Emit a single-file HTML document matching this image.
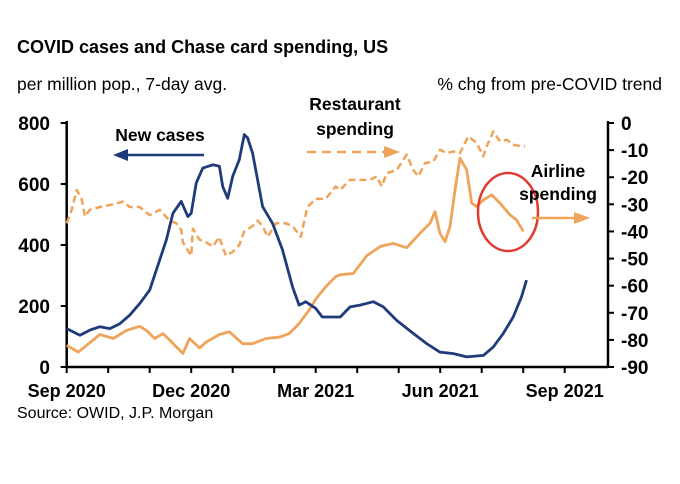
<!DOCTYPE html>
<html><head><meta charset="utf-8"><style>
body{margin:0;background:#fff;font-family:"Liberation Sans",Arial,sans-serif}
svg text{font-family:"Liberation Sans",Arial,sans-serif}
</style></head><body>
<svg width="680" height="479" viewBox="0 0 680 479">
<text x="17" y="53" font-size="18" font-weight="bold" fill="#000">COVID cases and Chase card spending, US</text>
<text x="17" y="90" font-size="17.5" fill="#000">per million pop., 7-day avg.</text>
<text x="662" y="90" font-size="17.5" fill="#000" text-anchor="end">% chg from pre-COVID trend</text>
<text x="17" y="418" font-size="16" fill="#000">Source: OWID, J.P. Morgan</text>
<g id="axes"></g>
<g id="series"></g>
<ellipse cx="508" cy="212" rx="30" ry="39" fill="none" stroke="#e03a2e" stroke-width="2.5"/>
<text x="160" y="141" font-size="17.5" font-weight="bold" text-anchor="middle">New cases</text>
<line x1="204" y1="155" x2="125" y2="155" stroke="#1f3b7a" stroke-width="2.5"/>
<polygon points="113,155 128,149 128,161" fill="#1f3b7a"/>
<text x="355" y="110" font-size="17.5" font-weight="bold" text-anchor="middle">Restaurant</text>
<text x="355" y="135" font-size="17.5" font-weight="bold" text-anchor="middle">spending</text>
<line x1="307" y1="152" x2="385" y2="152" stroke="#f0a35a" stroke-width="2.5" stroke-dasharray="9,6"/>
<polygon points="400,152 384,146 384,158" fill="#f0a35a"/>
<text x="558" y="177" font-size="17.5" font-weight="bold" text-anchor="middle">Airline</text>
<text x="558" y="200" font-size="17.5" font-weight="bold" text-anchor="middle">spending</text>
<line x1="532" y1="218" x2="575" y2="218" stroke="#f0a35a" stroke-width="2.5"/>
<polygon points="590,218 574,212 574,224" fill="#f0a35a"/>
</svg>
<script>
const xTickLabels=["Sep 2020","Dec 2020","Mar 2021","Jun 2021","Sep 2021"];
const leftTicks=[0,200,400,600,800];
const rightTicks=[0,-10,-20,-30,-40,-50,-60,-70,-80,-90];
const casesMonths=[0,0.32,0.56,0.8,1.04,1.28,1.52,1.76,2.0,2.24,2.4,2.56,2.76,2.92,3.0,3.12,3.28,3.52,3.68,3.76,3.88,4.0,4.16,4.28,4.36,4.48,4.72,4.96,5.2,5.44,5.6,5.76,6.0,6.16,6.4,6.59,6.83,7.07,7.39,7.63,7.95,8.35,8.67,8.99,9.32,9.64,10.04,10.28,10.52,10.76,10.96,11.08];
const casesValues=[126,104,121,132,126,142,170,208,252,351,416,504,543,493,504,603,652,663,658,592,553,625,680,762,751,701,526,471,384,263,203,214,192,164,164,164,197,203,214,197,153,110,77,49,44,33,38,66,110,164,230,285];
const restZ1=[[200,-37],[215,-32],[230,-24.7],[245,-28],[255,-34.5],[270,-32],[300,-31],[340,-30],[370,-29],[390,-31],[420,-31],[450,-34],[480,-32],[510,-36],[530,-37],[545,-39.5],[550,-44],[575,-49],[580,-39],[600,-43],[620,-44],[640,-45.6],[660,-42],[670,-46],[680,-49],[700,-47.5],[720,-45],[735,-40],[760,-38],[775,-36],[790,-38],[805,-42],[830,-37],[860,-37],[880,-38],[905,-42],[925,-31],[950,-28],[980,-28],[1010,-23.4]];
const restZ2=[[0,-24.7],[30,-21],[60,-21],[90,-21],[110,-19.7],[125,-23.4],[140,-18.5],[170,-17.3],[200,-11.7],[220,-17.3],[235,-19.7],[255,-14.8],[280,-14.2],[300,-9.9],[320,-11.1],[340,-10.5],[360,-11.1],[385,-4.9],[410,-7.4],[430,-12.3],[440,-8.6],[460,-3.1],[480,-6.8],[500,-6.2],[520,-8],[545,-8.6],[555,-8.6]];
const airZ1=[[200,-82],[235,-84.5],[260,-82],[300,-78],[340,-79.5],[380,-76.5],[420,-75],[440,-76.5],[465,-79.5],[490,-77.7],[510,-80],[530,-82.6],[550,-85],[570,-79.5],[600,-83],[620,-80.8],[660,-78],[690,-77],[730,-81.4],[760,-81.4],[800,-79.5],[840,-79],[870,-77.7],[900,-74],[930,-69],[950,-65],[980,-60.4],[1010,-56.7]];
const airZ2=[[0,-56],[40,-55.5],[80,-49],[120,-45.6],[160,-44.4],[200,-46],[240,-40.7],[270,-37],[285,-32.7],[300,-40.7],[315,-43.8],[330,-38.2],[345,-24.7],[360,-13],[380,-17.3],[395,-29.6],[410,-30.8],[430,-28.4],[455,-26.5],[480,-29.6],[510,-33.9],[530,-35.8],[550,-40]];
const restMonths=[...restZ1.map(p=>(p[0]-200)/125),...restZ2.map(p=>(273.3+p[0]/3)/41.5)];
const restValues=[...restZ1.map(p=>p[1]),...restZ2.map(p=>p[1])];
const airMonths=[...airZ1.map(p=>(p[0]-200)/125),...airZ2.map(p=>(273.3+p[0]/3)/41.5)];
const airValues=[...airZ1.map(p=>p[1]),...airZ2.map(p=>p[1])];

const NS="http://www.w3.org/2000/svg";
const X0=66.7,XM=41.5,YT=123,YB=367;
const xS=m=>X0+m*XM;
const yL=v=>YB-(v/800)*(YB-YT);
const yR=v=>YT+(-v/90)*(YB-YT);
function mk(tag,attrs,parent){const e=document.createElementNS(NS,tag);for(const k in attrs)e.setAttribute(k,attrs[k]);parent.appendChild(e);return e;}
const ax=document.getElementById('axes');
let e;
e=mk('line',{x1:X0,y1:YT-2,x2:X0,y2:YB,stroke:'#000','stroke-width':2.5},ax);


e=mk('line',{x1:608,y1:YT-2,x2:608,y2:YB,stroke:'#000','stroke-width':2.5},ax);


e=mk('line',{x1:X0,y1:YB,x2:608,y2:YB,stroke:'#000','stroke-width':2.5},ax);


for(let m=0;m<=12;m++){
 e=mk('line',{x1:xS(m),y1:YB,x2:xS(m),y2:YB+6,stroke:'#000','stroke-width':2},ax);
 
 
}
xTickLabels.forEach((t,i)=>{
 e=mk('text',{x:xS(i*3),y:YB+30,'font-size':18,'font-weight':'bold','text-anchor':'middle'},ax);e.textContent=t;
 
 
});
leftTicks.forEach(v=>{
 e=mk('line',{x1:X0-6,y1:yL(v),x2:X0,y2:yL(v),stroke:'#000','stroke-width':2},ax);
 
 
 e=mk('text',{x:50,y:yL(v)+7,'font-size':19,'font-weight':'bold','text-anchor':'end'},ax);e.textContent=v;
 
 
});
rightTicks.forEach(v=>{
 e=mk('line',{x1:608,y1:yR(v),x2:614,y2:yR(v),stroke:'#000','stroke-width':2},ax);
 
 
 e=mk('text',{x:621,y:yR(v)+7,'font-size':19,'font-weight':'bold'},ax);e.textContent=v;
 
 
});
const sg=document.getElementById('series');
function path(ms,vs,yf){return ms.map((m,i)=>(i?'L':'M')+xS(m).toFixed(1)+','+yf(vs[i]).toFixed(1)).join(' ');}
e=mk('path',{d:path(restMonths,restValues,yR),fill:'none',stroke:'#f0a35a','stroke-width':2.5,'stroke-dasharray':'7,4','stroke-linejoin':'round'},sg);


e=mk('path',{d:path(airMonths,airValues,yR),fill:'none',stroke:'#f0a35a','stroke-width':2.8,'stroke-linejoin':'round'},sg);


e=mk('path',{d:path(casesMonths,casesValues,yL),fill:'none',stroke:'#1f3b7a','stroke-width':2.8,'stroke-linejoin':'round'},sg);


</script>
</body></html>
